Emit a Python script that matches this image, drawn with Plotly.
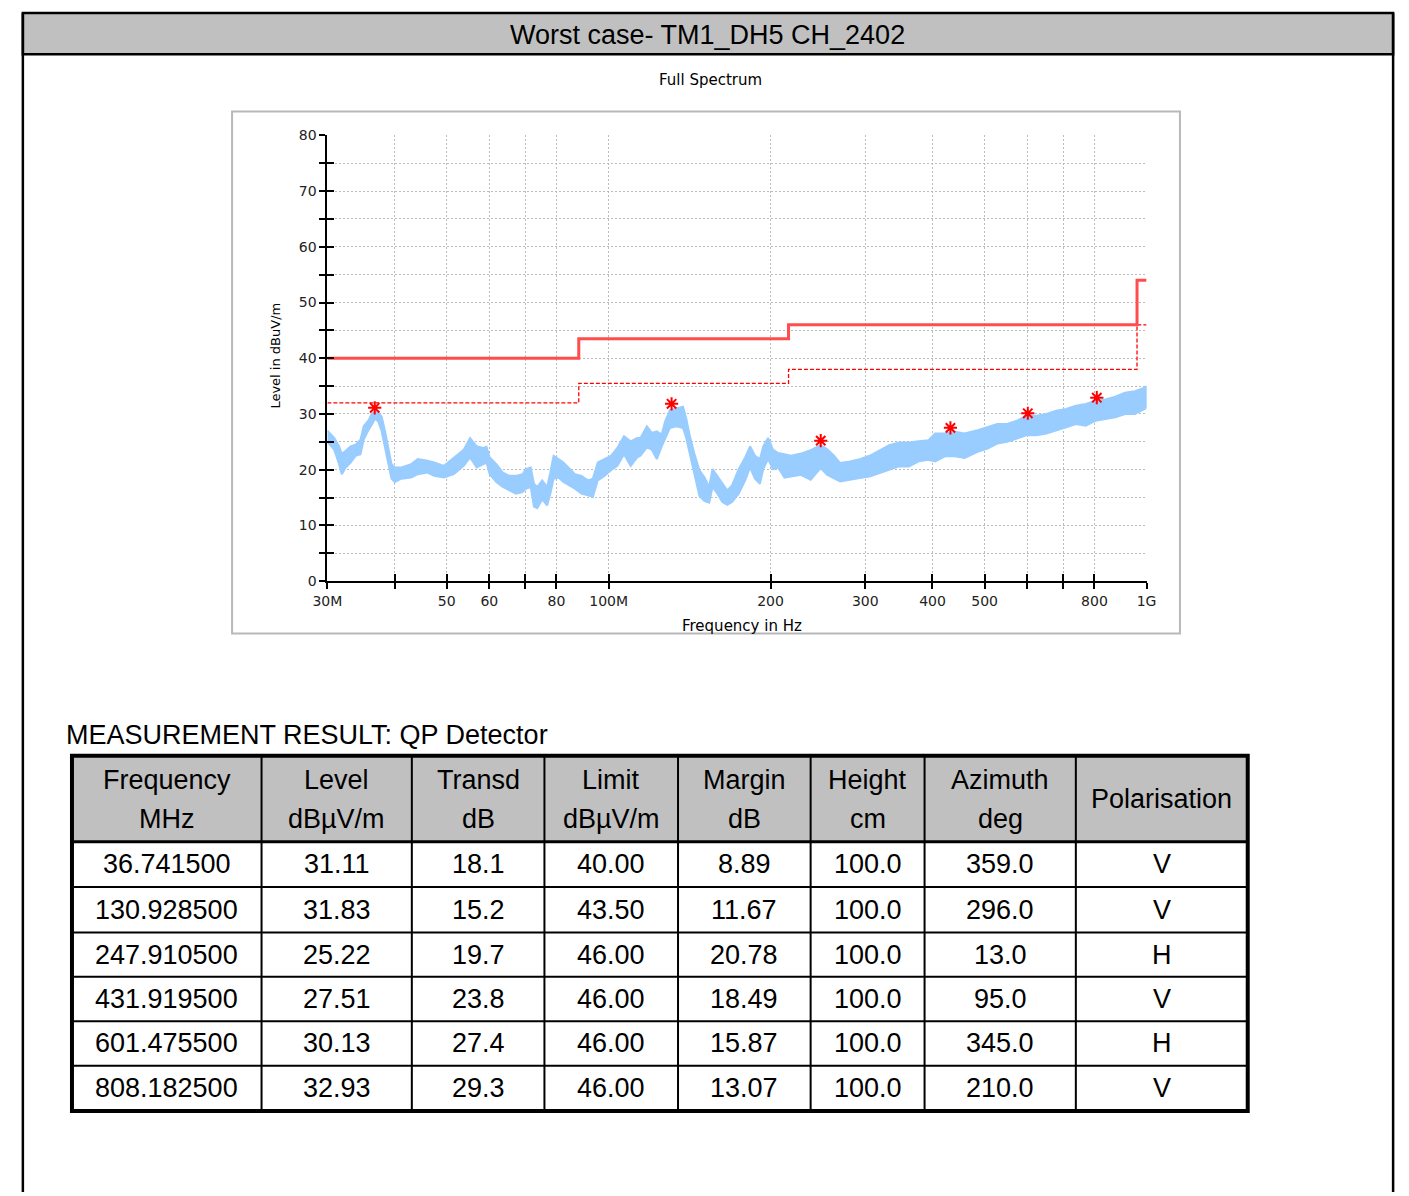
import math
import plotly.graph_objects as go

W, H = 1409, 1196

# ---- measured spectrum: upper / lower envelope of the peak trace ----
spec_freq = [
    30.0, 30.89, 31.55, 31.91, 32.45, 33.14, 33.85, 34.57, 35.05, 35.80,
    36.30, 36.82, 37.33, 37.85, 38.40, 38.94, 39.48, 40.05, 41.18, 42.95,
    44.18, 46.07, 47.39, 49.42, 51.55, 53.77, 55.27, 56.84, 58.47, 59.29,
    60.11, 61.83, 63.59, 65.38, 67.25, 69.17, 70.15, 71.64, 72.64, 73.68,
    75.25, 76.85, 77.92, 79.01, 80.69, 82.40, 84.16, 86.56, 89.03, 91.53,
    93.48, 95.46, 98.19, 101.0, 103.8, 106.8, 109.9, 113.0, 114.6, 117.8,
    120.3, 122.9, 125.5, 127.3, 130.0, 133.6, 137.5, 139.4, 141.4, 144.4,
    147.5, 150.6, 153.8, 156.0, 159.3, 162.7, 166.1, 169.6, 174.5, 179.4,
    183.2, 187.1, 191.1, 193.8, 197.9, 202.1, 206.5, 212.3, 218.3, 227.7,
    237.5, 247.7, 254.7, 261.9, 269.4, 280.9, 293.0, 305.6, 318.7, 332.4,
    346.7, 361.6, 377.1, 393.3, 404.5, 421.9, 440.0, 458.9, 485.3, 506.1,
    527.9, 550.6, 574.2, 598.9, 624.6, 651.5, 679.5, 708.7, 739.1, 770.9,
    804.0, 838.5, 874.5, 912.1, 951.2, 992.0, 1000.0,
]
spec_upper = [
    27.0, 25.7, 24.2, 22.8, 23.4, 24.2, 24.5, 25.4, 27.8, 28.9,
    30.1, 30.4, 30.3, 29.5, 26.9, 24.2, 21.0, 20.4, 20.4, 21.0,
    21.9, 21.6, 21.3, 20.7, 22.2, 23.6, 25.7, 24.2, 23.9, 24.1,
    22.2, 21.0, 19.5, 18.9, 18.9, 19.2, 20.1, 20.4, 17.5, 16.9,
    18.1, 16.9, 19.5, 22.5, 21.9, 21.3, 20.4, 19.2, 18.9, 18.1,
    18.4, 21.3, 21.9, 22.5, 23.9, 26.0, 25.1, 25.7, 25.7, 27.8,
    26.6, 26.9, 26.3, 28.6, 30.7, 31.0, 31.3, 29.2, 26.3, 22.8,
    19.9, 18.7, 16.9, 20.1, 18.9, 17.5, 16.3, 17.2, 20.1, 22.2,
    24.2, 22.5, 21.9, 24.2, 25.7, 23.6, 23.0, 22.8, 22.5, 22.9,
    23.5, 24.4, 23.7, 22.6, 21.2, 21.5, 21.9, 22.5, 23.5, 24.4,
    24.9, 24.9, 25.1, 25.3, 26.5, 26.5, 26.8, 26.5, 27.1, 27.6,
    28.2, 28.2, 28.8, 29.7, 29.7, 30.0, 30.6, 30.9, 31.5, 31.8,
    32.4, 32.6, 33.1, 33.8, 34.1, 34.7, 35.0,
]
spec_lower = [
    25.0, 23.6, 21.0, 19.2, 20.4, 21.3, 22.5, 22.8, 25.4, 27.2,
    28.1, 29.2, 28.6, 26.9, 24.2, 21.3, 18.4, 17.8, 18.4, 18.6,
    19.2, 19.5, 18.9, 18.6, 19.2, 20.7, 22.2, 20.4, 21.0, 21.3,
    19.2, 17.8, 16.9, 16.3, 15.7, 16.0, 16.6, 16.9, 13.4, 13.1,
    14.7, 13.6, 15.7, 18.4, 18.6, 17.8, 17.2, 16.6, 15.7, 15.4,
    15.1, 18.1, 18.9, 19.9, 20.7, 22.8, 20.7, 22.2, 22.5, 24.0,
    23.6, 21.9, 24.2, 25.7, 27.5, 27.8, 27.5, 25.7, 23.1, 19.0,
    15.3, 14.4, 14.1, 16.9, 15.7, 14.2, 13.7, 14.2, 15.7, 18.1,
    20.4, 18.4, 17.5, 20.1, 21.9, 20.1, 20.4, 18.6, 18.8, 19.1,
    18.2, 20.3, 19.1, 18.5, 17.9, 18.2, 18.5, 18.8, 19.4, 20.0,
    20.6, 20.6, 21.5, 21.8, 21.5, 22.4, 22.4, 22.1, 23.2, 23.8,
    24.7, 25.0, 25.6, 26.2, 26.2, 26.5, 27.1, 27.6, 28.2, 27.9,
    28.8, 29.1, 29.4, 30.0, 30.0, 30.9, 31.2,
]

# ---- limit lines ----
limit_freq = [30, 88, 216, 960, 1000]
limit_qp = [40.0, 43.5, 46.0, 54.0, 54.0]
limit_margin = [32.0, 35.5, 38.0, 46.0, 46.0]

# ---- axis ticks ----
x_tickvals = [30, 40, 50, 60, 70, 80, 100, 200, 300, 400, 500, 600, 700, 800, 1000]
x_ticktext = ["30M", "", "50", "60", "", "80", "100M", "200", "300", "400", "500", "", "", "800", "1G"]
y_tickvals = list(range(0, 85, 5))
y_ticktext = [str(v) if v % 10 == 0 else "" for v in y_tickvals]

# ---- QP measurement results ----
res_freq = [36.741500, 130.928500, 247.910500, 431.919500, 601.475500, 808.182500]
res_level = [31.11, 31.83, 25.22, 27.51, 30.13, 32.93]
res_transd = [18.1, 15.2, 19.7, 23.8, 27.4, 29.3]
res_limit = [40.00, 43.50, 46.00, 46.00, 46.00, 46.00]
res_margin = [8.89, 11.67, 20.78, 18.49, 15.87, 13.07]
res_height = [100.0, 100.0, 100.0, 100.0, 100.0, 100.0]
res_azimuth = [359.0, 296.0, 13.0, 95.0, 345.0, 210.0]
res_pol = ["V", "V", "H", "V", "H", "V"]

header_top = ["Frequency", "Level", "Transd", "Limit", "Margin", "Height", "Azimuth", "Polarisation"]
header_bottom = ["MHz", "dBµV/m", "dB", "dBµV/m", "dB", "cm", "deg", ""]

page_title = "Worst case- TM1_DH5 CH_2402"
chart_title = "Full Spectrum"
table_caption = "MEASUREMENT RESULT: QP Detector"


def fx(x):
    return x / W


def fy(y):
    return 1 - y / H


CHART_FONT = "DejaVu Sans, Verdana, sans-serif"
TABLE_FONT = "Liberation Sans, Arial, sans-serif"
LIMIT_RED = "#FF4D4D"
TRACE_BLUE = "#99CCFF"
GRID_DOTS = "2px,2px"

fig = go.Figure()

# spectrum band (upper envelope forward, lower envelope back)
fig.add_trace(go.Scatter(
    x=spec_freq + spec_freq[::-1],
    y=spec_upper + spec_lower[::-1],
    fill="toself", fillcolor=TRACE_BLUE,
    line=dict(color=TRACE_BLUE, width=2),
    mode="lines", hoverinfo="skip", showlegend=False,
))

# limit and margin lines
fig.add_trace(go.Scatter(
    x=limit_freq, y=limit_margin, mode="lines", line_shape="hv",
    line=dict(color="#FF0000", width=1.3, dash="4px,2px"),
    showlegend=False, hoverinfo="skip",
))
fig.add_trace(go.Scatter(
    x=limit_freq, y=limit_qp, mode="lines", line_shape="hv",
    line=dict(color=LIMIT_RED, width=3),
    showlegend=False, hoverinfo="skip",
))

# final QP measurement points
fig.add_trace(go.Scatter(
    x=res_freq, y=res_level, mode="markers",
    marker=dict(symbol="asterisk-open", size=11, color="#FF0000",
                line=dict(color="#FF0000", width=2)),
    showlegend=False, cliponaxis=False, hoverinfo="skip",
))

# empty trace so the overlay axes (inward ticks) get drawn
fig.add_trace(go.Scatter(x=[], y=[], xaxis="x2", yaxis="y2", showlegend=False, hoverinfo="skip"))

x_dom = [fx(318), fx(1152)]
y_dom = [fy(581), fy(129)]
x_rng = [math.log10(30), math.log10(1000)]

common_tick = dict(tickcolor="#000000", tickwidth=1.5)
fig.update_layout(
    width=W, height=H,
    margin=dict(l=0, r=0, t=0, b=0),
    paper_bgcolor="white", plot_bgcolor="white",
    showlegend=False,
    xaxis=dict(
        type="log", range=x_rng, domain=x_dom, anchor="y",
        tickmode="array", tickvals=x_tickvals, ticktext=x_ticktext,
        ticks="outside", ticklen=6, **common_tick,
        showline=True, linecolor="#000000", linewidth=2,
        showgrid=True, gridcolor="#BBBBBB", griddash=GRID_DOTS, gridwidth=1,
        zeroline=False,
        tickfont=dict(family=CHART_FONT, size=14, color="#222222"),
    ),
    yaxis=dict(
        range=[0, 80], domain=y_dom, anchor="x",
        tickmode="array", tickvals=y_tickvals, ticktext=y_ticktext,
        ticks="outside", ticklen=6, **common_tick,
        showline=True, linecolor="#000000", linewidth=2,
        showgrid=True, gridcolor="#BBBBBB", griddash=GRID_DOTS, gridwidth=1,
        zeroline=False,
        tickfont=dict(family=CHART_FONT, size=14, color="#222222"),
    ),
    xaxis2=dict(
        type="log", range=x_rng, overlaying="x", anchor="y2", side="bottom",
        tickmode="array", tickvals=x_tickvals, ticks="inside", ticklen=7, **common_tick,
        showticklabels=False, showgrid=False, showline=False, zeroline=False,
    ),
    yaxis2=dict(
        range=[0, 80], overlaying="y", anchor="x2", side="left",
        tickmode="array", tickvals=y_tickvals, ticks="inside", ticklen=7, **common_tick,
        showticklabels=False, showgrid=False, showline=False, zeroline=False,
    ),
)

shapes = []
annotations = []

# page frame and title bar
shapes.append(dict(type="rect", xref="paper", yref="paper",
                   x0=fx(8), x1=fx(1403), y0=fy(47), y1=fy(5),
                   fillcolor="#C0C0C0", line=dict(color="#000000", width=2.5), layer="below"))
shapes.append(dict(type="line", xref="paper", yref="paper",
                   x0=fx(8), x1=fx(8), y0=fy(5), y1=fy(1200), line=dict(color="#000000", width=2.5)))
shapes.append(dict(type="line", xref="paper", yref="paper",
                   x0=fx(1403), x1=fx(1403), y0=fy(5), y1=fy(1200), line=dict(color="#000000", width=2.5)))
annotations.append(dict(xref="paper", yref="paper", x=fx(705), y=fy(27),
                        text=page_title, showarrow=False,
                        font=dict(family=TABLE_FONT, size=27, color="#000000"),
                        xanchor="center", yanchor="middle"))

# chart frame
shapes.append(dict(type="rect", xref="paper", yref="paper",
                   x0=fx(221), x1=fx(1186), y0=fy(634), y1=fy(105),
                   line=dict(color="#B8B8B8", width=2), layer="below"))
annotations.append(dict(xref="paper", yref="paper", x=fx(708), y=fy(73),
                        text=chart_title, showarrow=False,
                        font=dict(family=CHART_FONT, size=15, color="#000000"),
                        xanchor="center", yanchor="middle"))
annotations.append(dict(xref="paper", yref="paper", x=fx(265), y=fy(352),
                        text="Level in dBuV/m", showarrow=False, textangle=-90,
                        font=dict(family=CHART_FONT, size=13, color="#000000"),
                        xanchor="center", yanchor="middle"))
annotations.append(dict(xref="paper", yref="paper", x=fx(740), y=fy(626),
                        text="Frequency in Hz", showarrow=False,
                        font=dict(family=CHART_FONT, size=15, color="#000000"),
                        xanchor="center", yanchor="middle"))

# results table
annotations.append(dict(xref="paper", yref="paper", x=fx(50), y=fy(737),
                        text=table_caption, showarrow=False,
                        font=dict(family=TABLE_FONT, size=27, color="#000000"),
                        xanchor="left", yanchor="middle"))

col_edges = [58, 251, 404, 539, 675, 810, 926, 1080, 1255]
row_edges = [758, 845, 891, 937, 982, 1027, 1072, 1118]

shapes.append(dict(type="rect", xref="paper", yref="paper",
                   x0=fx(col_edges[0]), x1=fx(col_edges[-1]), y0=fy(row_edges[1]), y1=fy(row_edges[0]),
                   fillcolor="#C0C0C0", line=dict(width=0), layer="below"))
for cx in col_edges[1:-1]:
    shapes.append(dict(type="line", xref="paper", yref="paper",
                       x0=fx(cx), x1=fx(cx), y0=fy(row_edges[-1]), y1=fy(row_edges[0]),
                       line=dict(color="#000000", width=2)))
for i, ry in enumerate(row_edges[1:-1]):
    shapes.append(dict(type="line", xref="paper", yref="paper",
                       x0=fx(col_edges[0]), x1=fx(col_edges[-1]), y0=fy(ry), y1=fy(ry),
                       line=dict(color="#000000", width=3 if i == 0 else 2)))
shapes.append(dict(type="rect", xref="paper", yref="paper",
                   x0=fx(col_edges[0]), x1=fx(col_edges[-1]), y0=fy(row_edges[-1]), y1=fy(row_edges[0]),
                   line=dict(color="#000000", width=4)))

cell_font = dict(family=TABLE_FONT, size=27, color="#000000")
for c in range(len(header_top)):
    xc = (col_edges[c] + col_edges[c + 1]) / 2
    if header_bottom[c]:
        annotations.append(dict(xref="paper", yref="paper", x=fx(xc), y=fy(782),
                                text=header_top[c], showarrow=False, font=cell_font,
                                xanchor="center", yanchor="middle"))
        annotations.append(dict(xref="paper", yref="paper", x=fx(xc), y=fy(822),
                                text=header_bottom[c], showarrow=False, font=cell_font,
                                xanchor="center", yanchor="middle"))
    else:
        annotations.append(dict(xref="paper", yref="paper", x=fx(xc), y=fy(802),
                                text=header_top[c], showarrow=False, font=cell_font,
                                xanchor="center", yanchor="middle"))

rows = []
for i in range(len(res_freq)):
    rows.append([
        f"{res_freq[i]:.6f}", f"{res_level[i]:.2f}", f"{res_transd[i]:.1f}",
        f"{res_limit[i]:.2f}", f"{res_margin[i]:.2f}", f"{res_height[i]:.1f}",
        f"{res_azimuth[i]:.1f}", res_pol[i],
    ])
for r, row in enumerate(rows):
    yc = (row_edges[r + 1] + row_edges[r + 2]) / 2
    for c, txt in enumerate(row):
        xc = (col_edges[c] + col_edges[c + 1]) / 2
        annotations.append(dict(xref="paper", yref="paper", x=fx(xc), y=fy(yc),
                                text=txt, showarrow=False, font=cell_font,
                                xanchor="center", yanchor="middle"))

fig.update_layout(shapes=shapes, annotations=annotations)

# page body without default margin so the figure fills the window exactly
fig.write_html(
    "out.html",
    config={"displayModeBar": False},
    post_script="document.body.style.margin='0';document.body.style.overflow='hidden';",
)
